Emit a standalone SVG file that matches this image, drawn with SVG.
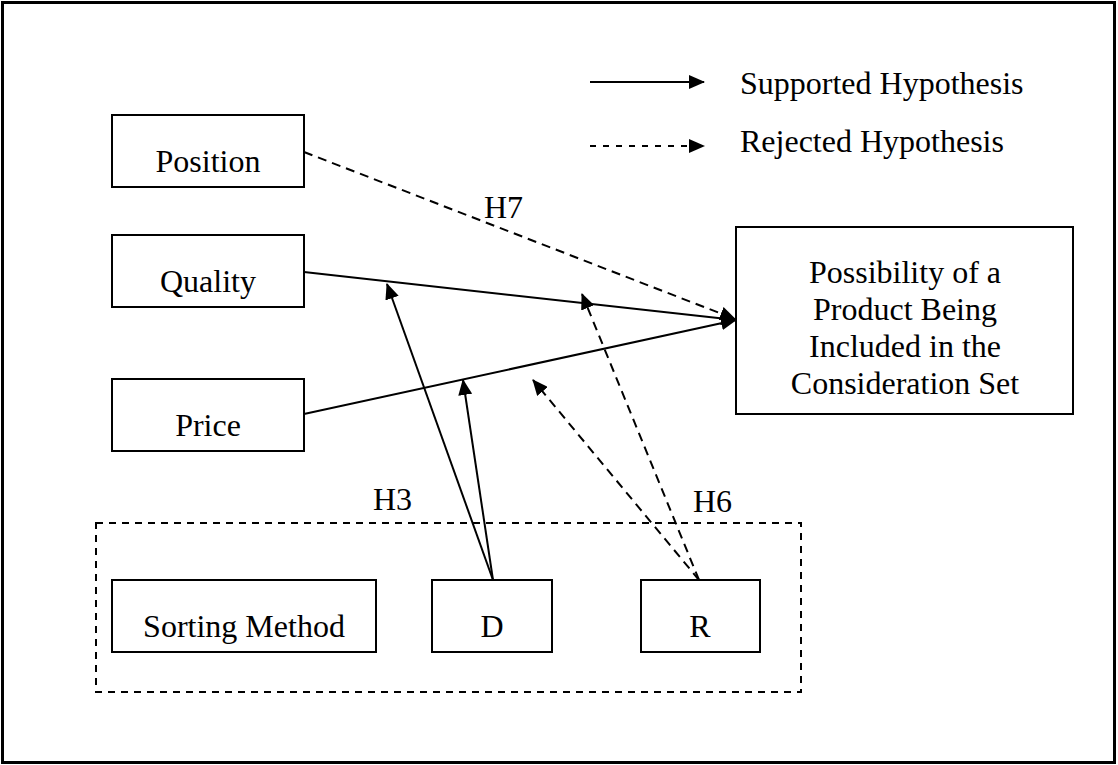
<svg xmlns="http://www.w3.org/2000/svg" width="1118" height="765" viewBox="0 0 1118 765">
  <style>
    .box { fill: #fff; stroke: #000; stroke-width: 2; }
    .lbl { font-family: "Liberation Serif", "Times New Roman", serif; font-size: 32px; fill: #000; }
    .mid { text-anchor: middle; }
    .solid { fill: none; stroke: #000; stroke-width: 2; }
    .dash { fill: none; stroke: #000; stroke-width: 2; stroke-dasharray: 9 6; }
    .dashs { fill: none; stroke: #000; stroke-width: 2; stroke-dasharray: 6 7; }
  </style>
  <defs>
    <marker id="ah" markerUnits="userSpaceOnUse" markerWidth="16" markerHeight="14" refX="15" refY="7" orient="auto" viewBox="0 0 16 14">
      <path d="M0,0 L16,7 L0,14 z" fill="#000"/>
    </marker>
  </defs>
  <rect x="2.5" y="2.5" width="1112" height="760" fill="#fff" stroke="#000" stroke-width="3"/>

  <g id="legend">
    <line class="solid" x1="590" y1="82" x2="704" y2="82" marker-end="url(#ah)"/>
    <text class="lbl" x="740" y="94">Supported Hypothesis</text>
    <line class="dashs" x1="590" y1="146" x2="704" y2="146" marker-end="url(#ah)"/>
    <text class="lbl" x="740" y="152">Rejected Hypothesis</text>
  </g>

  <g id="sorting-group">
    <rect x="96" y="523" width="705" height="169" fill="none" stroke="#000" stroke-width="2" stroke-dasharray="7 6"/>
  </g>

  <g id="position">
    <rect class="box" x="112" y="115" width="192" height="72"/>
    <text class="lbl mid" x="208" y="172">Position</text>
  </g>
  <g id="quality">
    <rect class="box" x="112" y="235" width="192" height="72"/>
    <text class="lbl mid" x="208" y="292">Quality</text>
  </g>
  <g id="price">
    <rect class="box" x="112" y="379" width="192" height="72"/>
    <text class="lbl mid" x="208" y="436">Price</text>
  </g>
  <g id="outcome">
    <rect class="box" x="736" y="227" width="337" height="187"/>
    <text class="lbl mid" x="905" y="283">Possibility of a</text>
    <text class="lbl mid" x="905" y="320">Product Being</text>
    <text class="lbl mid" x="905" y="357">Included in the</text>
    <text class="lbl mid" x="905" y="394">Consideration Set</text>
  </g>
  <g id="sorting-method">
    <rect class="box" x="112" y="580" width="264" height="72"/>
    <text class="lbl mid" x="244" y="637">Sorting Method</text>
  </g>
  <g id="d">
    <rect class="box" x="432" y="580" width="120" height="72"/>
    <text class="lbl mid" x="492" y="637">D</text>
  </g>
  <g id="r">
    <rect class="box" x="641" y="580" width="119" height="72"/>
    <text class="lbl mid" x="700" y="637">R</text>
  </g>

  <g id="connectors">
    <line class="dash" x1="304" y1="152" x2="735" y2="319" marker-end="url(#ah)"/>
    <line class="solid" x1="304" y1="272" x2="736" y2="320" marker-end="url(#ah)"/>
    <line class="solid" x1="304" y1="414" x2="736" y2="320" marker-end="url(#ah)"/>
    <line class="solid" x1="493" y1="580" x2="387" y2="284" marker-end="url(#ah)"/>
    <line class="solid" x1="493" y1="580" x2="463" y2="380" marker-end="url(#ah)"/>
    <line class="dash" x1="699" y1="580" x2="582" y2="294" marker-end="url(#ah)"/>
    <line class="dash" x1="699" y1="580" x2="533" y2="380" marker-end="url(#ah)"/>
  </g>

  <g id="labels">
    <text class="lbl" x="484" y="218">H7</text>
    <text class="lbl" x="373" y="510">H3</text>
    <text class="lbl" x="693" y="512">H6</text>
  </g>
</svg>
